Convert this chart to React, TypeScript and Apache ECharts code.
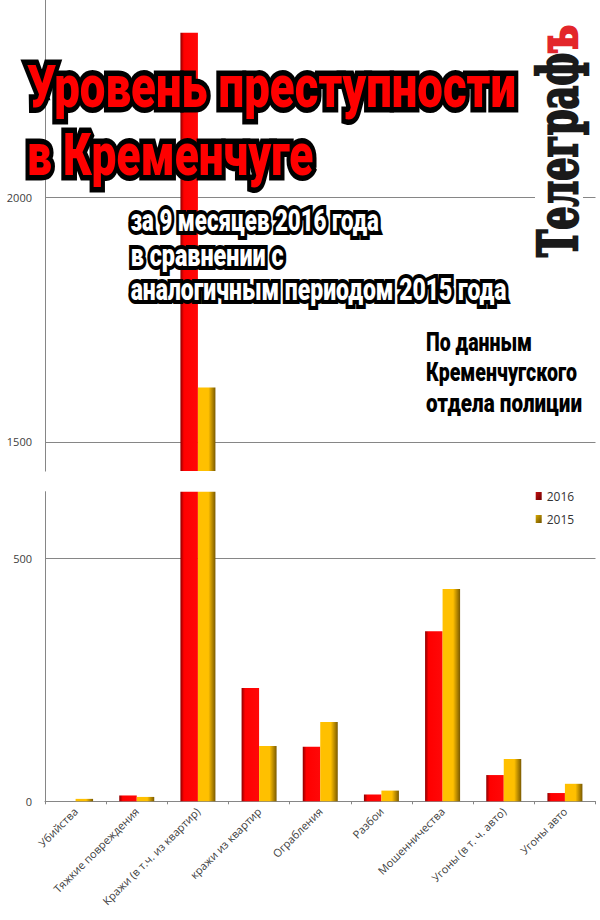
import React, { useEffect, useRef } from 'react';
import * as echarts from 'echarts';

// ---------- data ----------
const CATEGORIES = [
  'Убийства',
  'Тяжкие повреждения',
  'Кражи (в т.ч. из квартир)',
  'кражи из квартир',
  'Ограбления',
  'Разбои',
  'Мошенничества',
  'Угоны (в т. ч. авто)',
  'Угоны авто',
];
const SERIES_NAMES = ['2016', '2015'];
const VALUES_2016 = [0, 12, 2338, 233, 112, 14, 350, 54, 17];
const VALUES_2015 = [5, 9, 1611, 114, 163, 22, 437, 87, 36];

// broken value axis: upper and lower panels
const UPPER_RANGE = [1440, 2405];
const LOWER_RANGE = [0, 637];
const UPPER_TICKS = [1500, 2000];
const LOWER_TICKS = [0, 500];
const TICK_STEP = 20;

const TITLE_LINES = ['Уровень преступности', 'в Кременчуге'];
const SUBTITLE_LINES = ['за 9 месяцев 2016 года', 'в сравнении с', 'аналогичным периодом 2015 года'];
const SOURCE_LINES = ['По данным', 'Кременчугского', 'отдела полиции'];
const LOGO_MAIN = 'Телеграф';
const LOGO_END = 'ъ';

// ---------- helpers ----------
let measureCtx: CanvasRenderingContext2D | null = null;
function measure(text: string, font: string): number {
  if (!measureCtx) measureCtx = document.createElement('canvas').getContext('2d');
  measureCtx!.font = font;
  return measureCtx!.measureText(text).width;
}

function fitText(
  text: string,
  font: string,
  left: number,
  width: number,
  cy: number,
  fill: string,
  stroke: string | null,
  lineWidth: number,
  z: number
) {
  const m = measure(text, font);
  const s = width / (m + lineWidth);
  const style: any = {
    text,
    font,
    fill,
    align: 'left',
    textAlign: 'left',
    verticalAlign: 'middle',
    textVerticalAlign: 'middle',
  };
  if (stroke) {
    style.stroke = stroke;
    style.lineWidth = lineWidth;
    style.lineJoin = 'round';
  }
  return {
    type: 'text',
    x: left + (lineWidth / 2) * s,
    y: cy,
    scaleX: s,
    z,
    silent: true,
    style,
  };
}

const AXIS_GREY = '#868686';
const LABEL_FONT = 'Open Sans';

const red = new echarts.graphic.LinearGradient(0, 0, 1, 0, [
  { offset: 0, color: '#8c0000' },
  { offset: 0.2, color: '#ff0000' },
  { offset: 1, color: '#ff0808' },
]);
const gold = new echarts.graphic.LinearGradient(0, 0, 1, 0, [
  { offset: 0, color: '#ffc000' },
  { offset: 0.6, color: '#ffc000' },
  { offset: 1, color: '#7a5a00' },
]);
const legendRed = new echarts.graphic.LinearGradient(0, 0, 1, 1, [
  { offset: 0, color: '#c01010' },
  { offset: 1, color: '#700000' },
]);
const legendGold = new echarts.graphic.LinearGradient(0, 0, 1, 1, [
  { offset: 0, color: '#d8a800' },
  { offset: 1, color: '#6e5200' },
]);

function buildOption() {
  const upperGrid = { left: 45, right: 4.5, top: 0, height: 471.1 };
  const lowerGrid = { left: 45, right: 4.5, top: 491.7, bottom: 118.7 };

  const valueAxisBase = (range: number[], ticks: number[], gridIndex: number) => ({
    type: 'value',
    gridIndex,
    min: range[0],
    max: range[1],
    interval: TICK_STEP,
    axisLine: { show: true, lineStyle: { color: AXIS_GREY, width: 1 } },
    axisTick: { show: false },
    splitLine: { show: false },
    axisLabel: {
      margin: 13,
      color: '#404040',
      fontFamily: LABEL_FONT,
      fontSize: 11,
      formatter: (v: number) => (ticks.indexOf(v) >= 0 ? String(v) : ''),
    },
  });

  const gridLines = (vals: number[]) => ({
    silent: true,
    symbol: ['none', 'none'],
    z: 1,
    label: { show: false },
    lineStyle: { color: AXIS_GREY, width: 1, type: 'solid' },
    data: vals.map((v) => ({ yAxis: v })),
  });

  const bar = (name: string, data: number[], color: any, idx: number, marks?: number[]) => {
    const s: any = {
      type: 'bar',
      name,
      data,
      xAxisIndex: idx,
      yAxisIndex: idx,
      barWidth: 17.5,
      barGap: '0%',
      clip: true,
      z: 2,
      itemStyle: { color },
    };
    if (marks && marks.length) s.markLine = gridLines(marks);
    return s;
  };

  const T1 = '900 60px Roboto';
  const T2 = '900 31px Roboto';
  const T3 = '900 26px Roboto';
  const LOGO_FONT = 'bold 54px "DejaVu Serif"';

  const logoLen = 232;
  const logoScale = logoLen / measure(LOGO_MAIN + LOGO_END, LOGO_FONT);
  const logoMainLen = measure(LOGO_MAIN, LOGO_FONT) * logoScale;
  const logoStartY = 257;
  const logoX = 558.7;

  const logoText = (text: string, y: number, fill: string) => ({
    type: 'text',
    x: logoX,
    y,
    rotation: Math.PI / 2,
    scaleX: logoScale,
    z: 100,
    silent: true,
    style: {
      text,
      font: LOGO_FONT,
      fill,
      stroke: fill,
      lineWidth: 2.5,
      align: 'left',
      textAlign: 'left',
      verticalAlign: 'middle',
      textVerticalAlign: 'middle',
    },
  });

  const elements: any[] = [
    fitText(TITLE_LINES[0], T1, 23, 497.5, 86.5, '#ff0000', '#000', 11, 110),
    fitText(TITLE_LINES[1], T1, 23, 294.6, 154.5, '#ff0000', '#000', 11, 110),
    fitText(SUBTITLE_LINES[0], T2, 127.7, 254, 220.5, '#ffffff', '#000', 8, 110),
    fitText(SUBTITLE_LINES[1], T2, 127.7, 159, 255.5, '#ffffff', '#000', 8, 110),
    fitText(SUBTITLE_LINES[2], T2, 127.7, 382, 289.5, '#ffffff', '#000', 8, 110),
    fitText(SOURCE_LINES[0], T3, 426, 106, 342.8, '#000', null, 0, 110),
    fitText(SOURCE_LINES[1], T3, 426, 151, 372.8, '#000', null, 0, 110),
    fitText(SOURCE_LINES[2], T3, 426, 156, 402.8, '#000', null, 0, 110),
    {
      type: 'rect',
      z: 99,
      silent: true,
      shape: { x: 535, y: 18, width: 48, height: 246 },
      style: { fill: '#ffffff' },
    },
    logoText(LOGO_MAIN, logoStartY, '#1a1a1a'),
    logoText(LOGO_END, logoStartY - logoMainLen, '#e3262b'),
  ];

  return {
    animation: false,
    backgroundColor: '#ffffff',
    grid: [upperGrid, lowerGrid],
    legend: {
      data: [
        { name: SERIES_NAMES[0], itemStyle: { color: legendRed } },
        { name: SERIES_NAMES[1], itemStyle: { color: legendGold } },
      ],
      orient: 'vertical',
      left: 535.7,
      top: 490,
      padding: 0,
      itemWidth: 6,
      itemHeight: 8,
      itemGap: 11,
      icon: 'rect',
      selectedMode: false,
      textStyle: { fontFamily: LABEL_FONT, fontSize: 12, color: '#333' },
    },
    xAxis: [
      { type: 'category', gridIndex: 0, data: CATEGORIES, show: false },
      {
        type: 'category',
        gridIndex: 1,
        data: CATEGORIES,
        axisLine: { show: true, lineStyle: { color: AXIS_GREY, width: 1 } },
        axisTick: { show: true, length: 3, interval: 0, lineStyle: { color: AXIS_GREY } },
        axisLabel: {
          interval: 0,
          rotate: 45,
          margin: 8,
          color: '#404040',
          fontFamily: LABEL_FONT,
          fontSize: 11,
        },
      },
    ],
    yAxis: [valueAxisBase(UPPER_RANGE, UPPER_TICKS, 0), valueAxisBase(LOWER_RANGE, LOWER_TICKS, 1)],
    series: [
      bar(SERIES_NAMES[0], VALUES_2016, red, 0, UPPER_TICKS),
      bar(SERIES_NAMES[1], VALUES_2015, gold, 0),
      bar(SERIES_NAMES[0], VALUES_2016, red, 1, LOWER_TICKS.filter((v) => v > 0)),
      bar(SERIES_NAMES[1], VALUES_2015, gold, 1),
    ],
    graphic: { elements },
  };
}

export default function App() {
  const ref = useRef<HTMLDivElement>(null);
  useEffect(() => {
    if (!ref.current) return;
    const chart = echarts.init(ref.current, null, { renderer: 'svg' });
    chart.setOption(buildOption() as any);
    return () => chart.dispose();
  }, []);
  return (
    <div
      ref={ref}
      style={{ position: 'fixed', left: 0, top: 0, width: 600, height: 920, background: '#fff' }}
    />
  );
}
